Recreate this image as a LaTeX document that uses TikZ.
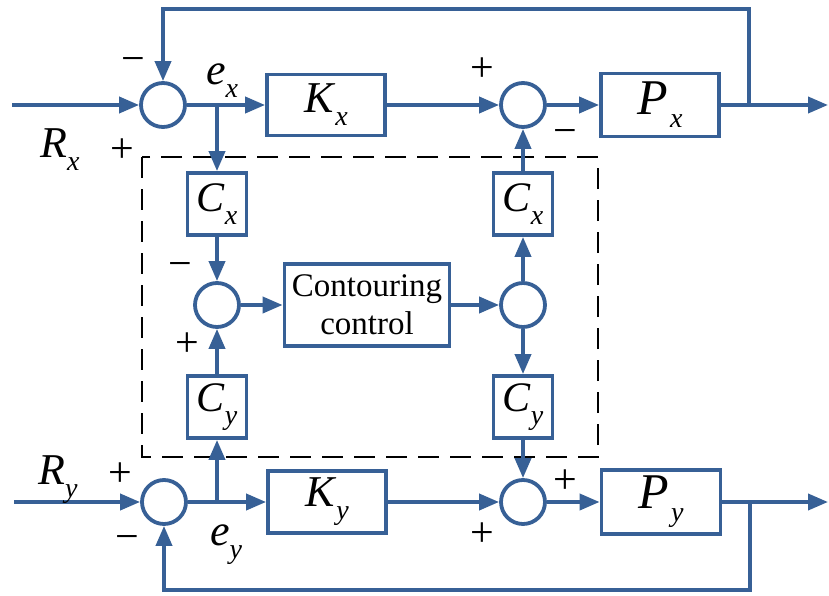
\documentclass[tikz,border=0pt]{standalone}
\usepackage{fontspec}
\setmainfont{Liberation Serif}
\usetikzlibrary{arrows.meta}
\definecolor{bl}{RGB}{55,96,150}
\newcommand\lsub[3][0pt]{\textit{#2}\kern#1\raisebox{-13pt}{\fontsize{28}{28}\selectfont\textit{#3}}}
\begin{document}
\begin{tikzpicture}[x=1pt,y=-1pt,
  wire/.style={draw=bl,line width=3.8pt},
  arr/.style={wire,-{Triangle[length=20pt,width=16pt]}},
  sumc/.style={circle,draw=bl,line width=3.8pt,minimum size=44pt,inner sep=0pt},
  blk/.style={draw=bl,line width=3.8pt,inner sep=0pt,font=\fontsize{42}{42}\selectfont},
  lbl/.style={inner sep=0pt,font=\fontsize{44}{44}\selectfont},
  sgn/.style={inner sep=0pt,font=\fontsize{42}{42}\selectfont}]
\useasboundingbox (0,0) rectangle (829,596);
% dashed frame
\draw[black,line width=2.8pt,dash pattern=on 21pt off 11pt] (142,157) rectangle (598,457);
% top row
\node[sumc] (sx1) at (163,105) {};
\node[blk,minimum width=118pt,minimum height=61pt,font=\fontsize{44}{44}\selectfont] (kx) at (326,105) {\lsub{K}{x}};
\node[sumc] (sx2) at (523,105) {};
\node[blk,minimum width=118pt,minimum height=63pt,font=\fontsize{50}{50}\selectfont] (px) at (660,105) {\lsub[2pt]{P}{x}};
% middle
\node[blk,minimum width=59pt,minimum height=62pt] (cx1) at (217,204) {\lsub{C}{x}};
\node[blk,minimum width=59pt,minimum height=62pt] (cx2) at (523,204) {\lsub{C}{x}};
\node[sumc] (m1) at (217,305) {};
\node[sumc] (m2) at (523,305) {};
\node[blk,minimum width=165pt,minimum height=82pt,font=\fontsize{33}{38}\selectfont,align=center] (cc) at (367,305) {Contouring\\control};
\node[blk,minimum width=59pt,minimum height=62pt] (cy1) at (217,407) {\lsub{C}{y}};
\node[blk,minimum width=59pt,minimum height=62pt] (cy2) at (523,407) {\lsub{C}{y}};
% bottom row
\node[sumc] (sy1) at (164,502) {};
\node[blk,minimum width=118pt,minimum height=62pt,font=\fontsize{44}{44}\selectfont] (ky) at (327,502) {\lsub{K}{y}};
\node[sumc] (sy2) at (523,502) {};
\node[blk,minimum width=119pt,minimum height=64pt,font=\fontsize{50}{50}\selectfont] (py) at (661,502) {\lsub[2pt]{P}{y}};
% coordinates
\coordinate (inx) at (12,105);
\coordinate (iny) at (14,502);
\coordinate (bx) at (217,105);
\coordinate (by) at (217,502);
\coordinate (ox) at (749,105);
\coordinate (oxe) at (828,105);
\coordinate (ftr) at (749,9);
\coordinate (ftl) at (163,9);
\coordinate (oy) at (750,502);
\coordinate (oye) at (828,502);
\coordinate (fbr) at (750,590);
\coordinate (fbl) at (164,590);
% top connectors
\draw[arr] (inx) -- (sx1);
\draw[arr] (sx1) -- (kx);
\draw[arr] (bx) -- (cx1);
\draw[arr] (kx) -- (sx2);
\draw[arr] (sx2) -- (px);
\draw[arr] (px) -- (oxe);
\draw[arr] (ox) -- (ftr) -- (ftl) -- (sx1);
% middle connectors
\draw[arr] (cx1) -- (m1);
\draw[arr] (by) -- (cy1);
\draw[arr] (cy1) -- (m1);
\draw[arr] (m1) -- (cc);
\draw[arr] (cc) -- (m2);
\draw[arr] (m2) -- (cx2);
\draw[arr] (cx2) -- (sx2);
\draw[arr] (m2) -- (cy2);
\draw[arr] (cy2) -- (sy2);
% bottom connectors
\draw[arr] (iny) -- (sy1);
\draw[arr] (sy1) -- (ky);
\draw[arr] (ky) -- (sy2);
\draw[arr] (sy2) -- (py);
\draw[arr] (py) -- (oye);
\draw[arr] (oy) -- (fbr) -- (fbl) -- (sy1);
% labels
\node[lbl] (rx) at (60,150) {\lsub{R}{x}};
\node[lbl] (ex) at (222,81) {\lsub{e}{x}};
\node[lbl] (ry) at (58,480) {\lsub{R}{y}};
\node[lbl] (ey) at (226,545) {\lsub{e}{y}};
% signs
\node[sgn] (s1) at (133,65) {−};
\node[sgn] (s2) at (122,151) {+};
\node[sgn] (s3) at (482,70) {+};
\node[sgn] (s4) at (565,137) {−};
\node[sgn] (s5) at (180,270) {−};
\node[sgn] (s6) at (187,345) {+};
\node[sgn] (s7) at (120,475) {+};
\node[sgn] (s8) at (127,543) {−};
\node[sgn] (s9) at (565,482) {+};
\node[sgn] (s10) at (482,535) {+};
\end{tikzpicture}
\end{document}
